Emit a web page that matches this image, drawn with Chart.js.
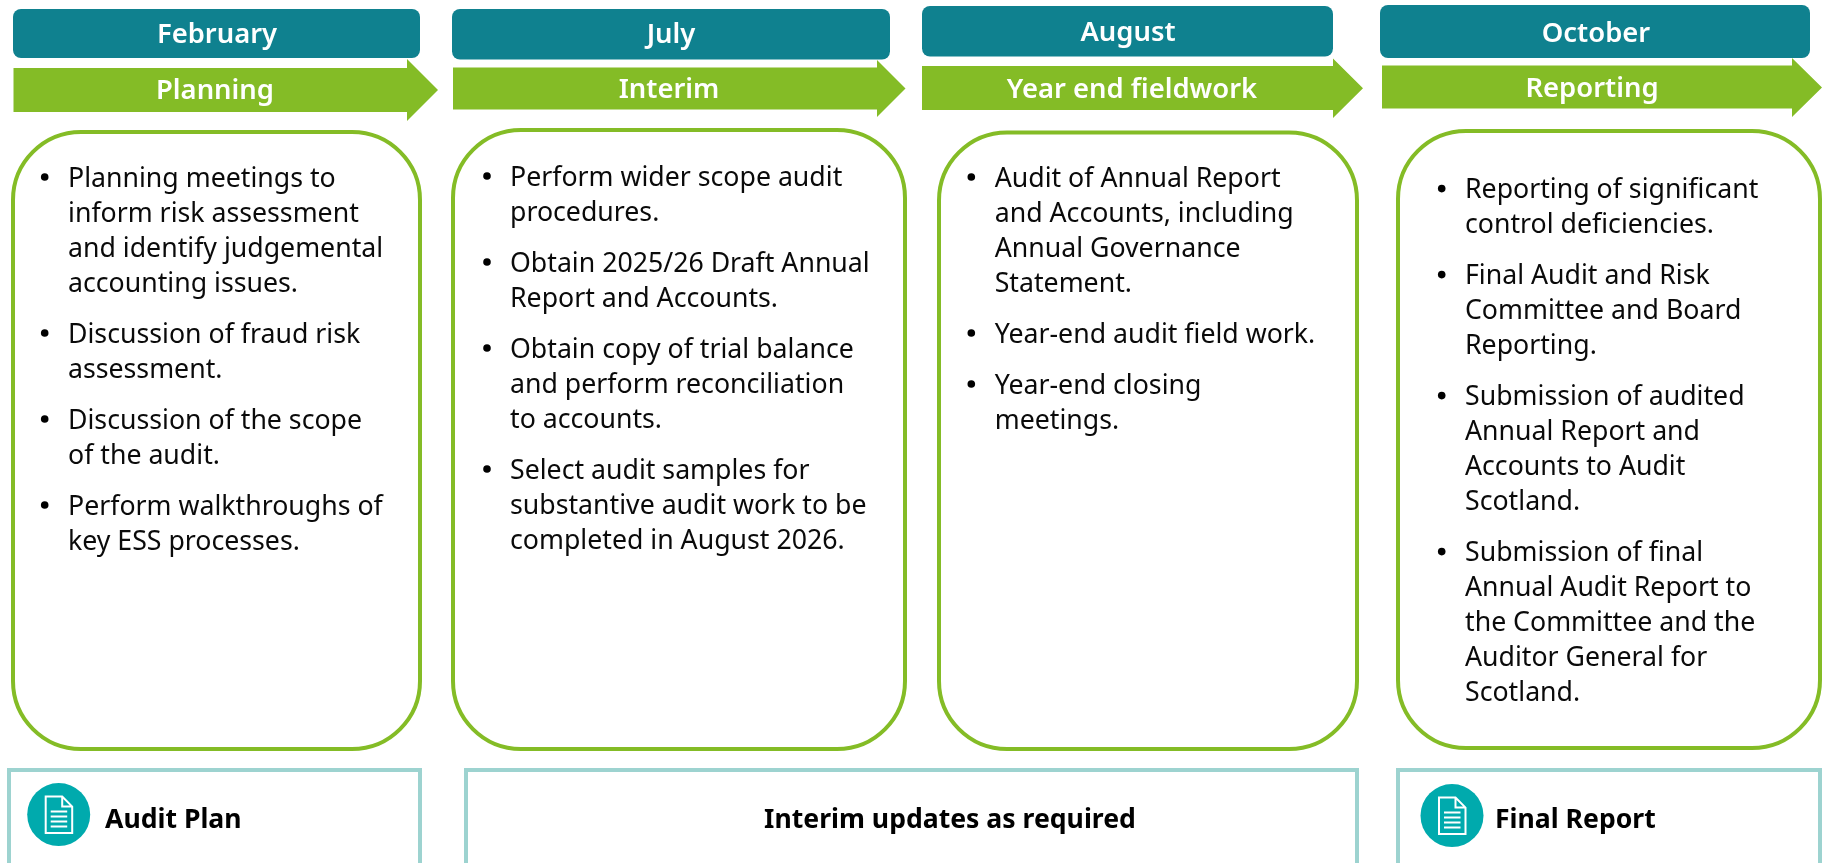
<!DOCTYPE html>
<html>
<head>
<meta charset="utf-8">
<title>Audit timeline</title>
<script src="https://cdn.jsdelivr.net/npm/chart.js@4"></script>
<style>
  html, body { margin: 0; padding: 0; background: #fff; }
  canvas { display: block; }
</style>
</head>
<body>
<canvas id="timeline" width="1825" height="863"></canvas>
<script>
// text content
const months = ['February', 'July', 'August', 'October'];
const phases = ['Planning', 'Interim', 'Year end fieldwork', 'Reporting'];
const planningItems = [
  ['Planning meetings to', 'inform risk assessment', 'and identify judgemental', 'accounting issues.'],
  ['Discussion of fraud risk', 'assessment.'],
  ['Discussion of the scope', 'of the audit.'],
  ['Perform walkthroughs of', 'key ESS processes.'],
];
const interimItems = [
  ['Perform wider scope audit', 'procedures.'],
  ['Obtain 2025/26 Draft Annual', 'Report and Accounts.'],
  ['Obtain copy of trial balance', 'and perform reconciliation', 'to accounts.'],
  ['Select audit samples for', 'substantive audit work to be', 'completed in August 2026.'],
];
const fieldworkItems = [
  ['Audit of Annual Report', 'and Accounts, including', 'Annual Governance', 'Statement.'],
  ['Year-end audit field work.'],
  ['Year-end closing', 'meetings.'],
];
const reportingItems = [
  ['Reporting of significant', 'control deficiencies.'],
  ['Final Audit and Risk', 'Committee and Board', 'Reporting.'],
  ['Submission of audited', 'Annual Report and', 'Accounts to Audit', 'Scotland.'],
  ['Submission of final', 'Annual Audit Report to', 'the Committee and the', 'Auditor General for', 'Scotland.'],
];
const columnItems = [planningItems, interimItems, fieldworkItems, reportingItems];
const outputs = ['Audit Plan', 'Interim updates as required', 'Final Report'];

// layout, in axis units (the axes run 0-1825 and 0-863, same as the page)
const headerBoxes = [[13, 9, 420, 58], [452, 9, 890, 59.5], [922, 6, 1333, 56.5], [1380, 5, 1810, 58]];
const headerText = [[217, 42.7], [671, 43], [1128, 40.7], [1596, 41.7]];
const arrows = [
  { x0: 13.5, x1: 407, tip: 438, top: 68, bot: 112, headTop: 59, headBot: 121 },
  { x0: 453, x1: 877, tip: 905.5, top: 67.5, bot: 109.5, headTop: 60, headBot: 117 },
  { x0: 922, x1: 1333, tip: 1363, top: 66, bot: 110, headTop: 58.5, headBot: 118 },
  { x0: 1382, x1: 1792, tip: 1822, top: 65.5, bot: 108.5, headTop: 58, headBot: 117 },
];
const arrowText = [[215, 99], [669, 97.7], [1132, 97.7], [1592, 96.7]];
const cards = [[13, 132, 420, 749], [453, 130, 905, 749], [939, 132.5, 1357, 749], [1398, 131, 1820, 748]];
const textLeft = [68, 510, 994.7, 1465];
const bulletX = [44.7, 487, 971.3, 1441.7];
const firstBaseline = [186.7, 185.7, 186.7, 198.3];
const linePitch = 35;
const paraGap = 16;
const outBoxes = [[9, 770, 420, 875], [466, 770, 1357, 875], [1398, 770, 1820, 875]];
const outText = [[105, 828, 'left'], [950, 828, 'center'], [1495, 828, 'left']];
const iconCentres = [[58.7, 814.6], [1452, 815.6]];

const TEAL = '#0f818f';
const GREEN = '#84bc26';
const BODY_FONT = '26.7px "Noto Sans"';
const HEAD_FONT = '600 27.4px "Noto Sans"';
const OUT_FONT = '700 26.6px "Noto Sans"';

// bullets are real chart points
const bulletPoints = [];
columnItems.forEach((items, c) => {
  let y = firstBaseline[c];
  items.forEach(lines => {
    bulletPoints.push({ x: bulletX[c], y: y - 9.7 });
    y += lines.length * linePitch + paraGap;
  });
});

function roundedRect(ctx, x, y, x2, y2, r) {
  ctx.beginPath();
  ctx.roundRect(x, y, x2 - x, y2 - y, r);
}

const timelinePlugin = {
  id: 'timeline',
  beforeDatasetsDraw(chart) {
    const ctx = chart.ctx;
    const sx = v => chart.scales.x.getPixelForValue(v);
    const sy = v => chart.scales.y.getPixelForValue(v);
    ctx.save();
    ctx.textBaseline = 'alphabetic';

    months.forEach((m, i) => {
      const b = headerBoxes[i];
      roundedRect(ctx, sx(b[0]), sy(b[1]), sx(b[2]), sy(b[3]), 8);
      ctx.fillStyle = TEAL;
      ctx.fill();
      ctx.fillStyle = '#fff';
      ctx.font = HEAD_FONT;
      ctx.textAlign = 'center';
      ctx.fillText(m, sx(headerText[i][0]), sy(headerText[i][1]));
    });

    phases.forEach((p, i) => {
      const a = arrows[i];
      const mid = (a.headTop + a.headBot) / 2;
      ctx.beginPath();
      ctx.moveTo(sx(a.x0), sy(a.top));
      ctx.lineTo(sx(a.x1), sy(a.top));
      ctx.lineTo(sx(a.x1), sy(a.headTop));
      ctx.lineTo(sx(a.tip), sy(mid));
      ctx.lineTo(sx(a.x1), sy(a.headBot));
      ctx.lineTo(sx(a.x1), sy(a.bot));
      ctx.lineTo(sx(a.x0), sy(a.bot));
      ctx.closePath();
      ctx.fillStyle = GREEN;
      ctx.fill();
      ctx.fillStyle = '#fff';
      ctx.font = HEAD_FONT;
      ctx.textAlign = 'center';
      ctx.fillText(p, sx(arrowText[i][0]), sy(arrowText[i][1]));
    });

    cards.forEach(b => {
      roundedRect(ctx, sx(b[0]), sy(b[1]), sx(b[2]), sy(b[3]), 68);
      ctx.fillStyle = '#fff';
      ctx.fill();
      ctx.strokeStyle = GREEN;
      ctx.lineWidth = 4;
      ctx.stroke();
    });

    ctx.fillStyle = '#0a0a0a';
    ctx.font = BODY_FONT;
    ctx.textAlign = 'left';
    columnItems.forEach((items, c) => {
      let y = firstBaseline[c];
      items.forEach(lines => {
        lines.forEach(line => {
          ctx.fillText(line, sx(textLeft[c]), sy(y));
          y += linePitch;
        });
        y += paraGap;
      });
    });

    outBoxes.forEach(b => {
      ctx.strokeStyle = '#9dd3d0';
      ctx.lineWidth = 4;
      ctx.strokeRect(sx(b[0]), sy(b[1]), sx(b[2]) - sx(b[0]), sy(b[3]) - sy(b[1]));
    });
    ctx.fillStyle = '#000';
    ctx.font = OUT_FONT;
    outputs.forEach((t, i) => {
      ctx.textAlign = outText[i][2];
      ctx.fillText(t, sx(outText[i][0]), sy(outText[i][1]));
    });

    iconCentres.forEach(c => drawDocIcon(ctx, sx(c[0]), sy(c[1])));
    ctx.restore();
  },
};

function drawDocIcon(ctx, cx, cy) {
  ctx.beginPath();
  ctx.arc(cx, cy, 31.5, 0, Math.PI * 2);
  ctx.fillStyle = '#00aaad';
  ctx.fill();
  ctx.strokeStyle = '#fff';
  ctx.lineWidth = 2;
  const l = cx - 13, r = cx + 13.5, t = cy - 18, b = cy + 18.5;
  ctx.beginPath();
  ctx.moveTo(l, t);
  ctx.lineTo(r - 10, t);
  ctx.lineTo(r, t + 10);
  ctx.lineTo(r, b);
  ctx.lineTo(l, b);
  ctx.closePath();
  ctx.moveTo(r - 10, t);
  ctx.lineTo(r - 10, t + 10);
  ctx.lineTo(r, t + 10);
  for (let i = 0; i < 4; i++) {
    ctx.moveTo(l + 5, cy - 3 + i * 5);
    ctx.lineTo(r - 5, cy - 3 + i * 5);
  }
  ctx.stroke();
}

new Chart(document.getElementById('timeline').getContext('2d'), {
  type: 'scatter',
  data: {
    datasets: [{
      label: 'Bullets',
      data: bulletPoints,
      pointRadius: 3.8,
      pointBackgroundColor: '#000',
      pointBorderWidth: 0,
    }],
  },
  options: {
    responsive: false,
    animation: false,
    layout: { padding: 0, autoPadding: false },
    plugins: { legend: { display: false }, tooltip: { enabled: false } },
    scales: {
      x: { type: 'linear', display: false, min: 0, max: 1825 },
      y: { type: 'linear', display: false, min: 0, max: 863, reverse: true },
    },
  },
  plugins: [timelinePlugin],
});
</script>
</body>
</html>
